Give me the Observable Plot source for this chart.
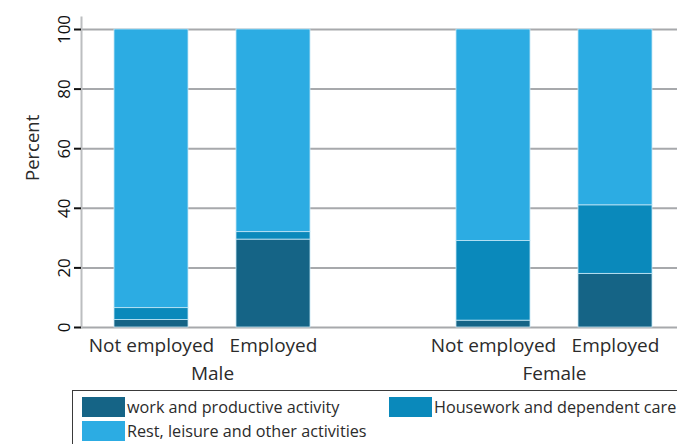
<!DOCTYPE html>
<html>
<head>
<meta charset="utf-8">
<script src="https://cdn.jsdelivr.net/npm/d3@7"></script>
<script src="https://cdn.jsdelivr.net/npm/@observablehq/plot@0.6"></script>
<style>
  html, body { margin: 0; padding: 0; background: #fff; overflow: hidden; width: 677px; height: 444px; }
  #wrap { position: relative; width: 677px; height: 444px; overflow: hidden; font-family: "Open Sans", sans-serif; }
  #chart { position: absolute; left: 0; top: 0; width: 765px; }
  #chart svg { max-width: none !important; width: 765px !important; height: 389px !important; }
  .legend { position: absolute; left: 72px; top: 390px; width: 680px; height: 70px; border: 1px solid #3a3a3a; box-sizing: border-box;
            display: grid; grid-template-columns: 307px auto; grid-auto-rows: 20px; align-content: start; row-gap: 4px; padding: 6px 0 0 9px; }
  .item { display: flex; align-items: center; font-size: 16.2px; color: #2b2b2b; white-space: nowrap; line-height: 20px; }
  .sw { width: 43px; height: 20px; margin-right: 2px; flex: none; }
</style>
</head>
<body>
<div id="wrap">
  <div id="chart"></div>
  <div class="legend" id="legend"></div>
</div>
<script>
const sexes = ["Male", "Female"];
const employment = ["Not employed", "Employed"];
const activities = ["work and productive activity", "Housework and dependent care", "Rest, leisure and other activities"];
const colors = ["#156486", "#0a89bb", "#2cace3"];
// order: Male-Not employed, Male-Employed, Female-Not employed, Female-Employed
const work      = [2.5, 29.5, 2.3, 18.0];
const housework = [4.0, 2.5, 26.7, 23.0];
const rest      = [93.5, 68.0, 71.0, 59.0];
const yTicks = [0, 20, 40, 60, 80, 100];

const groups = [];
sexes.forEach(s => employment.forEach(e => groups.push({sex: s, emp: e})));
const series = [work, housework, rest];
const rows = [];
groups.forEach((g, i) => series.forEach((vals, k) => rows.push({sex: g.sex, emp: g.emp, activity: activities[k], value: vals[i]})));

const txt = "#2b2b2b";
const chart = Plot.plot({
  width: 765,
  height: 389,
  marginLeft: 80,
  marginRight: 0,
  marginTop: 29,
  marginBottom: 62,
  style: {fontFamily: "Open Sans, sans-serif", color: txt, background: "transparent"},
  facet: {marginTop: 0, marginBottom: 0, marginLeft: 0, marginRight: 0},
  fx: {domain: sexes, padding: 0, label: null},
  x: {domain: employment, paddingInner: 0.396, paddingOuter: 0.596, align: 0.226, label: null},
  y: {domain: [0, 100], label: null},
  color: {domain: activities, range: colors},
  marks: [
    Plot.gridY(yTicks, {stroke: "#a7a9ac", strokeOpacity: 1, strokeWidth: 2}),
    Plot.barY(rows, {fx: "sex", x: "emp", y: "value", fill: "activity", stroke: "#c4e6f5", strokeWidth: 0.8}),
    Plot.frame({anchor: "left", facetAnchor: "left", stroke: "#bcbec0", strokeWidth: 2, insetTop: -12}),
    Plot.axisY(yTicks, {tickSize: 7, tickRotate: -90, tickPadding: 5, fontSize: 17, stroke: "#111", strokeWidth: 2, fill: "#111", label: null}),
    Plot.text(["Percent"], {frameAnchor: "left", dx: -48, dy: 2.5, rotate: -90, fontSize: 18.5, fill: txt, facetAnchor: "left"}),
    Plot.axisX({tickSize: 0, tickPadding: 11, fontSize: 19, fill: txt, label: null}),
    Plot.axisFx({anchor: "bottom", tickSize: 0, tickPadding: 39, dx: -40, fontSize: 19, fill: txt, label: null})
  ]
});
document.getElementById("chart").appendChild(chart);

const lg = document.getElementById("legend");
activities.forEach((a, i) => {
  const it = document.createElement("div");
  it.className = "item";
  const sw = document.createElement("span");
  sw.className = "sw";
  sw.style.background = colors[i];
  it.appendChild(sw);
  it.appendChild(document.createTextNode(a));
  lg.appendChild(it);
});
</script>
</body>
</html>
